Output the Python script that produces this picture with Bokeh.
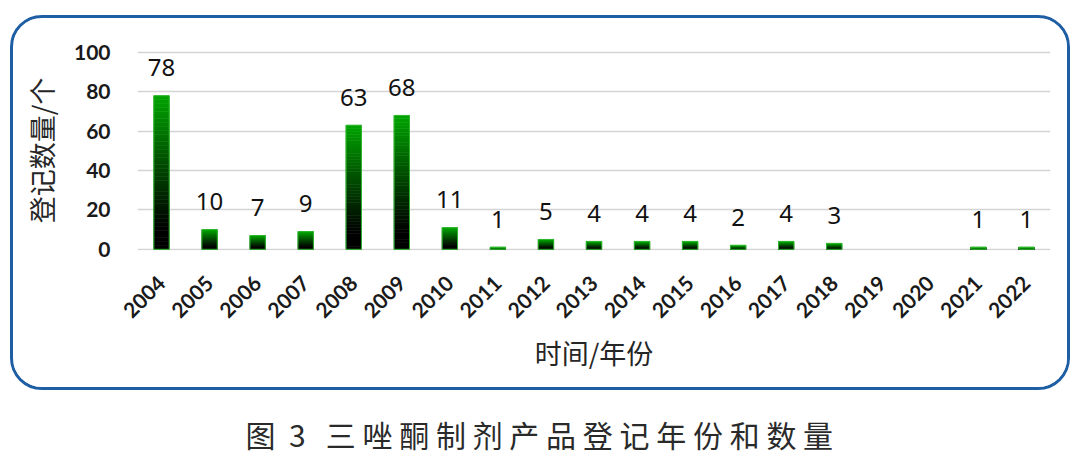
import math
from bokeh.plotting import figure
from bokeh.layouts import column
from bokeh.models import ColumnDataSource, Label, FactorRange, Range1d
from bokeh.core.properties import value
from bokeh.embed import file_html
from bokeh.resources import INLINE

years = ["2004", "2005", "2006", "2007", "2008", "2009", "2010", "2011", "2012", "2013",
         "2014", "2015", "2016", "2017", "2018", "2019", "2020", "2021", "2022"]
counts = [78, 10, 7, 9, 63, 68, 11, 1, 5, 4, 4, 4, 2, 4, 3, 0, 0, 1, 1]
y_ticks = [0, 20, 40, 60, 80, 100]
y_title = "登记数量/个"
x_title = "时间/年份"
caption_parts = ["图", "3", "三唑酮制剂产品登记年份和数量"]

NB = "\u00a0"
caption = (caption_parts[0] + NB * 2 + caption_parts[1] + NB * 3
           + NB.join(caption_parts[2]))

CW, CH = 1060, 375          # chart panel (inside the rounded box)
ML, MR, MT, MB = 124, 23, 32, 143

p = figure(width=CW, height=CH, x_range=FactorRange(factors=years, range_padding=0),
           y_range=Range1d(-0.6, 101), output_backend="svg", toolbar_location=None,
           min_border_left=ML, min_border_right=MR, min_border_top=MT, min_border_bottom=MB,
           margin=(15, 0, 0, 10))
p.styles = {"border": "3px solid #1e5ea4", "border-radius": "32px",
            "overflow": "hidden", "box-sizing": "border-box"}
p.outline_line_color = None
p.background_fill_color = "white"
p.border_fill_color = "white"

# gradient bars: stacked slices, black at bottom -> green at top
N = 40
green = (0, 165, 0)
xs, bots, tops, cols = [], [], [], []
for yr, v in zip(years, counts):
    if v <= 0:
        continue
    for k in range(N):
        t = (k + 0.5) / N
        f = max(0.0, min(1.0, (t - 0.12) / 0.88))
        f = f ** 1.1
        c = tuple(int(round(g * f)) for g in green)
        xs.append(yr)
        bots.append(v * k / N)
        tops.append(v * (k + 1) / N)
        cols.append("#%02x%02x%02x" % c)
src = ColumnDataSource(dict(x=xs, bottom=bots, top=tops, color=cols))
p.vbar(x="x", bottom="bottom", top="top", width=0.32, source=src,
       fill_color="color", line_color="color", line_width=0.6)
nz_years = [y for y, v in zip(years, counts) if v > 0]
nz_counts = [v for v in counts if v > 0]
osrc = ColumnDataSource(dict(x=nz_years, top=nz_counts))
p.vbar(x="x", top="top", bottom=0, width=0.32, source=osrc,
       fill_color=None, line_color="#2db82d", line_width=1)

# value labels
lsrc = ColumnDataSource(dict(x=nz_years, y=nz_counts, t=[str(v) for v in nz_counts]))
p.text(x="x", y="y", text="t", source=lsrc, text_align="center", text_baseline="alphabetic",
       y_offset=-28, text_font=value("Noto Sans"), text_font_size="24px",
       text_color="#111111")

# axes
p.yaxis.ticker = y_ticks
p.yaxis.axis_line_color = None
p.yaxis.major_tick_line_color = None
p.yaxis.minor_tick_line_color = None
p.yaxis.major_tick_in = 0
p.yaxis.major_tick_out = 0
p.yaxis.major_label_standoff = 27
p.yaxis.major_label_text_font = "Lato"
p.yaxis.major_label_text_font_size = "21px"
p.yaxis.major_label_text_font_style = "bold"
p.yaxis.major_label_text_color = "#1a1a1a"
p.yaxis.axis_label = y_title
p.yaxis.axis_label_text_font = "Noto Sans CJK SC"
p.yaxis.axis_label_text_font_size = "27px"
p.yaxis.axis_label_text_font_style = "normal"
p.yaxis.axis_label_text_color = "#262626"
p.yaxis.axis_label_standoff = 10

p.xaxis.axis_line_color = None
p.xaxis.major_tick_line_color = None
p.xaxis.major_tick_in = 0
p.xaxis.major_tick_out = 0
p.xaxis.major_label_orientation = math.pi / 4
p.xaxis.major_label_standoff = 29
p.xaxis.major_label_text_font = "Lato"
p.xaxis.major_label_text_font_size = "21px"
p.xaxis.major_label_text_font_style = "bold"
p.xaxis.major_label_text_color = "#1a1a1a"
p.xaxis.axis_label = x_title
p.xaxis.axis_label_text_font = "Noto Sans CJK SC"
p.xaxis.axis_label_text_font_size = "27px"
p.xaxis.axis_label_text_font_style = "normal"
p.xaxis.axis_label_text_color = "#262626"
p.xaxis.axis_label_standoff = 5

p.xgrid.grid_line_color = None
p.ygrid.grid_line_color = "#d4d4d4"
p.ygrid.grid_line_width = 1.5

# caption panel below the box (its frame is aligned with the chart's borders,
# so its x range is set to span that frame in page pixels)
PW, PH = 1080, 66
pc = figure(width=PW, height=PH, x_range=Range1d(ML, PW - MR), y_range=Range1d(0, PH),
            output_backend="svg", toolbar_location=None, min_border=0)
pc.axis.visible = False
pc.grid.grid_line_color = None
pc.outline_line_color = None
pc.add_layout(Label(x=245, y=PH - 43, text=caption, text_align="left",
                    text_baseline="middle", text_font="Noto Sans CJK SC",
                    text_font_size="30px", text_color="#2a2a2a"))

layout = column(p, pc, spacing=0)
open("out.html", "w").write(file_html(layout, INLINE))
